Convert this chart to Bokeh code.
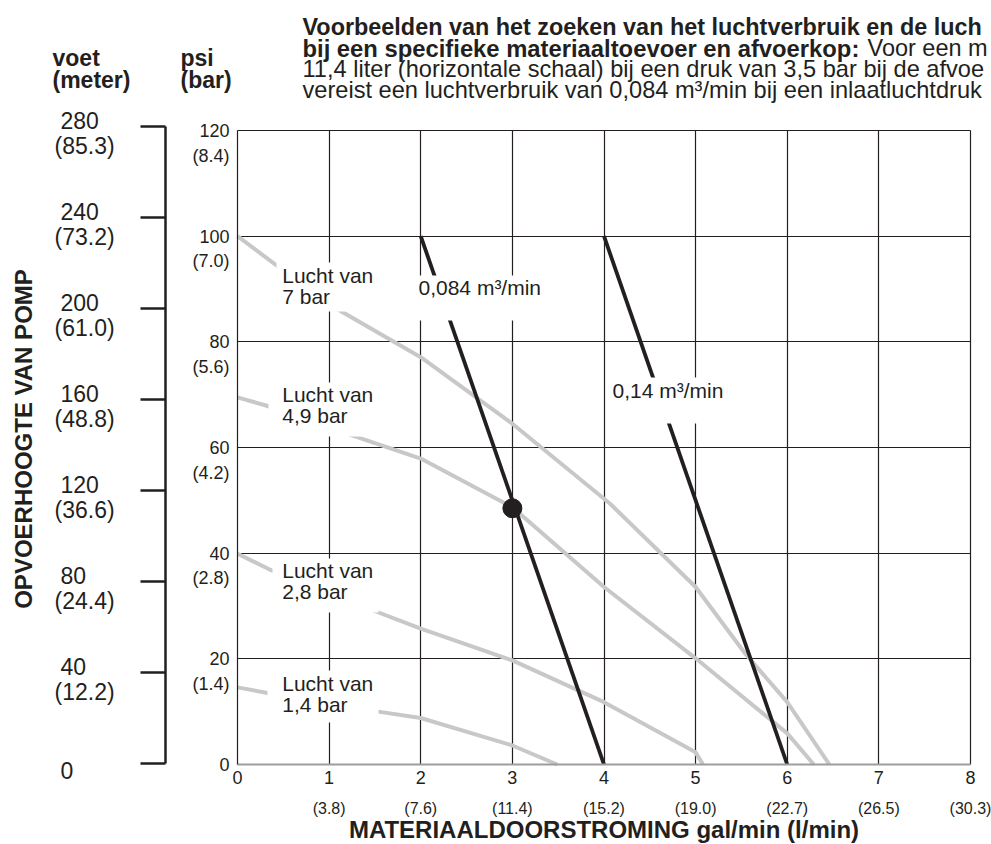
from math import pi

from bokeh.core.properties import value
from bokeh.embed import file_html
from bokeh.models import (BoxAnnotation, ColumnDataSource, FixedTicker, Grid, Label,
                          LabelSet, LinearAxis, Range1d)
from bokeh.plotting import figure
from bokeh.resources import INLINE

# ---------------------------------------------------------------- data
GAL_TICKS = [0, 1, 2, 3, 4, 5, 6, 7, 8]
LPM_LABELS = ["", "(3.8)", "(7.6)", "(11.4)", "(15.2)", "(19.0)", "(22.7)", "(26.5)", "(30.3)"]
PSI_TICKS = [0, 20, 40, 60, 80, 100, 120]
BAR_LABELS = ["", "(1.4)", "(2.8)", "(4.2)", "(5.6)", "(7.0)", "(8.4)"]
FEET_TICKS = [0, 40, 80, 120, 160, 200, 240, 280]
METER_LABELS = ["", "(12.2)", "(24.4)", "(36.6)", "(48.8)", "(61.0)", "(73.2)", "(85.3)"]

# air-pressure performance curves: flow (gal/min) vs discharge pressure (psi)
AIR_7_GAL = [0, 0.40, 1.12, 2.0, 3.0, 4.07, 5.0, 5.54, 6.0, 6.46]
AIR_7_PSI = [100, 94.8, 85.9, 77.1, 64.5, 49.3, 33.6, 21.0, 11.8, 0]
AIR_49_GAL = [0, 0.32, 1.25, 2.0, 3.0, 4.0, 5.0, 6.0, 6.29]
AIR_49_PSI = [69.5, 67.9, 62.3, 57.9, 48.7, 33.6, 20.1, 5.9, 0]
AIR_28_GAL = [0, 0.34, 1.49, 2.0, 3.0, 4.0, 5.0, 5.08]
AIR_28_PSI = [39.9, 37.0, 29.1, 25.7, 19.7, 11.8, 2.3, 0]
AIR_14_GAL = [0, 0.34, 1.50, 2.0, 3.0, 3.49]
AIR_14_PSI = [14.6, 13.5, 10.1, 8.8, 3.6, 0]

# air consumption lines
CONS_084_GAL = [2, 4]
CONS_084_PSI = [100, 0]
CONS_14_GAL = [4, 6]
CONS_14_PSI = [100, 0]

# worked example point
EXAMPLE_GAL = [3]
EXAMPLE_PSI = [48.5]

TOP_TEXT_1 = "Voorbeelden van het zoeken van het luchtverbruik en de luch"
TOP_TEXT_2B = "bij een specifieke materiaaltoevoer en afvoerkop:"
TOP_TEXT_2R = "Voor een m"
TOP_TEXT_3 = "11,4 liter (horizontale schaal) bij een druk van 3,5 bar bij de afvoe"
TOP_TEXT_4 = "vereist een luchtverbruik van 0,084 m³/min bij een inlaatluchtdruk"

# ---------------------------------------------------------------- layout
INK = "#231f20"
GRAY = "#c8c8c8"
FONT = "Liberation Sans"
W, H = 991, 844
FL, FR, FT, FB = 237, 970, 130, 764          # chart box, page pixels
FEET_TOP, FEET_BOT = 126, 763                 # 280 ft / 0 ft, page pixels
X_END, Y_END = GAL_TICKS[-1], PSI_TICKS[-1]
BASELINE_FIX = 7.5


def X(px):
    return (px - FL) * X_END / (FR - FL)


def Y(py):
    return (FB - py) * Y_END / (FB - FT)


def FTY(py):
    return (FEET_BOT - py) * FEET_TICKS[-1] / (FEET_BOT - FEET_TOP)


p = figure(width=W, height=H, output_backend="svg", toolbar_location=None, title=None,
           x_range=Range1d(X(0), X(W)), y_range=Range1d(Y(H), Y(0)),
           x_axis_type=None, y_axis_type=None, min_border=0)
p.outline_line_color = None
p.background_fill_color = "white"
p.border_fill_color = "white"
p.extra_y_ranges = {"feet": Range1d(FTY(H), FTY(0))}

# grid
grid_kw = dict(grid_line_color=INK, grid_line_width=1.2)
try:
    xg = Grid(dimension=0, ticker=FixedTicker(ticks=GAL_TICKS[1:]),
              cross_bounds=(0, Y_END), **grid_kw)
    yg = Grid(dimension=1, ticker=FixedTicker(ticks=PSI_TICKS[1:]),
              cross_bounds=(0, X_END), **grid_kw)
    p.add_layout(xg)
    p.add_layout(yg)
except AttributeError:
    p.segment(x0=GAL_TICKS[1:], y0=[0] * 8, x1=GAL_TICKS[1:], y1=[Y_END] * 8,
              line_color=INK, line_width=1.2)
    p.segment(x0=[0] * 6, y0=PSI_TICKS[1:], x1=[X_END] * 6, y1=PSI_TICKS[1:],
              line_color=INK, line_width=1.2)

# curves
for gx, gy in ((AIR_7_GAL, AIR_7_PSI), (AIR_49_GAL, AIR_49_PSI),
               (AIR_28_GAL, AIR_28_PSI), (AIR_14_GAL, AIR_14_PSI)):
    p.line(gx, gy, line_color=GRAY, line_width=4)
for gx, gy in ((CONS_084_GAL, CONS_084_PSI), (CONS_14_GAL, CONS_14_PSI)):
    p.line(gx, gy, line_color=INK, line_width=3.8)
p.scatter(EXAMPLE_GAL, EXAMPLE_PSI, size=19, color=INK)

# axes
tick_kw = dict(major_tick_in=0, minor_tick_out=0, minor_tick_in=0,
               major_label_text_color=INK)
xa = LinearAxis(fixed_location=0, bounds=(0, X_END), ticker=FixedTicker(ticks=GAL_TICKS),
                major_tick_out=0, axis_line_color="#9d9d9d", axis_line_width=2,
                major_label_text_font=FONT,
                major_label_text_font_size="18px", major_label_standoff=6, **tick_kw)
p.add_layout(xa, "below")
ya = LinearAxis(fixed_location=0, bounds=(0, Y_END), ticker=FixedTicker(ticks=PSI_TICKS),
                major_tick_out=0, axis_line_color=INK, axis_line_width=1.2,
                major_label_text_font=FONT,
                major_label_text_font_size="18px", major_label_standoff=8, **tick_kw)
p.add_layout(ya, "left")
fa = LinearAxis(y_range_name="feet", fixed_location=X(165), bounds=(0, FEET_TICKS[-1]),
                ticker=FixedTicker(ticks=FEET_TICKS), major_tick_out=25,
                axis_line_color=INK, axis_line_width=2.5,
                major_tick_line_color=INK, major_tick_line_width=2.5,
                major_label_overrides={t: "" for t in FEET_TICKS},
                major_label_text_font_size="1px", major_label_standoff=0, **tick_kw)
p.add_layout(fa, "left")

# white label boxes (page pixel extents)
for l, r, t, b in ((276, 378, 262, 311), (268, 378, 382, 436), (272, 378, 558, 612),
                   (267, 378, 670, 722), (414, 546, 275, 320), (607, 728, 377, 423)):
    p.add_layout(BoxAnnotation(left=X(l), right=X(r), top=Y(t), bottom=Y(b),
                               fill_color="white", fill_alpha=1, line_color=None))


def txt(px, py, s, size, bold=False, align="left", baseline="alphabetic", angle=0):
    if baseline == "alphabetic":
        py -= BASELINE_FIX
    p.add_layout(Label(x=X(px), y=Y(py), text=s, text_font=FONT,
                       text_font_size=f"{size}px",
                       text_font_style="bold" if bold else "normal",
                       text_color=INK, text_align=align, text_baseline=baseline,
                       angle=angle))


# curve labels
for top, second in ((282.5, "7 bar"), (401, "4,9 bar"), (577.5, "2,8 bar"), (690, "1,4 bar")):
    txt(281.7, top, "Lucht van", 21)
    txt(281.7, top + 21, second, 21)
txt(418, 294, "0,084 m³/min", 21)
txt(612, 397, "0,14 m³/min", 21)

# headers
txt(52, 65, "voet", 23, bold=True)
txt(52, 86.5, "(meter)", 23, bold=True)
txt(180, 65, "psi", 23, bold=True)
txt(180, 86.5, "(bar)", 23, bold=True)

# top explanatory text
txt(302, 34, TOP_TEXT_1, 23.4, bold=True)
txt(302, 55, TOP_TEXT_2B, 23.8, bold=True)
txt(867, 55, TOP_TEXT_2R, 23.5)
txt(302, 76, TOP_TEXT_3, 23.6)
txt(302, 97, TOP_TEXT_4, 23.6)

# axis titles
txt(22.5, 438.5, "OPVOERHOOGTE VAN POMP", 24, bold=True, align="center",
    baseline="middle", angle=pi / 2)
txt((FL + FR) / 2, 836.5, "MATERIAALDOORSTROMING gal/min (l/min)", 24, bold=True,
    align="center")

# secondary tick labels
lpm_src = ColumnDataSource(dict(x=GAL_TICKS, y=[0] * len(GAL_TICKS), text=LPM_LABELS))
p.add_layout(LabelSet(source=lpm_src, x="x", y="y", text="text", y_offset=-44,
                      text_align="center", text_baseline="middle",
                      text_font=value(FONT), text_font_size="16px", text_color=INK))

bar_src = ColumnDataSource(dict(x=[0] * len(PSI_TICKS), y=PSI_TICKS, text=BAR_LABELS))
p.add_layout(LabelSet(source=bar_src, x="x", y="y", text="text", x_offset=-8, y_offset=-25,
                      text_align="right", text_baseline="middle",
                      text_font=value(FONT), text_font_size="18px", text_color=INK))

ft_num = [str(f) for f in FEET_TICKS]
ft_off = [6 if m else -7 for m in METER_LABELS]
ft_src = ColumnDataSource(dict(x=[X(60)] * len(FEET_TICKS), xm=[X(54)] * len(FEET_TICKS),
                               y=FEET_TICKS, num=ft_num, met=METER_LABELS, off=ft_off))
p.add_layout(LabelSet(source=ft_src, x="x", y="y", text="num", y_offset="off",
                      y_range_name="feet", text_align="left", text_baseline="middle",
                      text_font=value(FONT), text_font_size="23px", text_color=INK))
p.add_layout(LabelSet(source=ft_src, x="xm", y="y", text="met", y_offset=-19,
                      y_range_name="feet", text_align="left", text_baseline="middle",
                      text_font=value(FONT), text_font_size="23px", text_color=INK))

open("out.html", "w").write(file_html(p, INLINE))
